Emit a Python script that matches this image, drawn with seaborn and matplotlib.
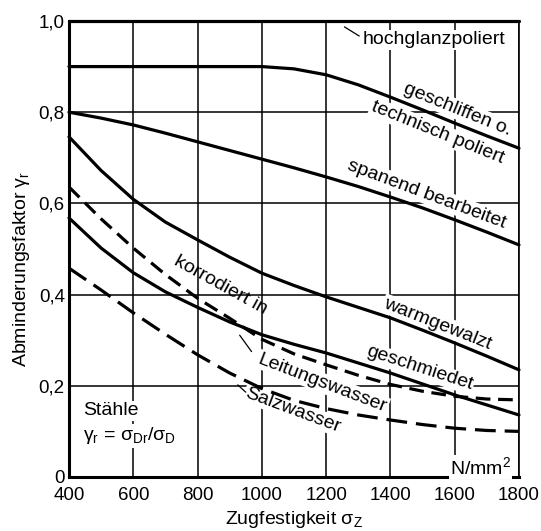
import numpy as np
import pandas as pd
import matplotlib
matplotlib.use("Agg")
import matplotlib.pyplot as plt
import seaborn as sns

# ---------------- data ----------------
x_vals = [400, 500, 600, 700, 800, 900, 1000, 1100, 1200, 1300, 1400, 1500, 1600, 1700, 1800]

hochglanzpoliert = [1.0, 1.0, 1.0, 1.0, 1.0, 1.0, 1.0, 1.0, 1.0, 1.0, 1.0, 1.0, 1.0, 1.0, 1.0]
geschliffen = [0.90, 0.90, 0.90, 0.90, 0.90, 0.90, 0.90, 0.895, 0.882, 0.860, 0.833, 0.805, 0.776, 0.748, 0.721]
spanend = [0.800, 0.787, 0.772, 0.754, 0.735, 0.716, 0.697, 0.678, 0.658, 0.637, 0.614, 0.590, 0.564, 0.537, 0.509]
warmgewalzt = [0.746, 0.672, 0.609, 0.559, 0.520, 0.482, 0.447, 0.420, 0.395, 0.372, 0.349, 0.322, 0.294, 0.265, 0.235]
geschmiedet = [0.568, 0.502, 0.448, 0.406, 0.372, 0.340, 0.312, 0.291, 0.272, 0.250, 0.228, 0.204, 0.180, 0.158, 0.136]
leitungswasser = [0.636, 0.566, 0.502, 0.444, 0.392, 0.348, 0.302, 0.270, 0.246, 0.223, 0.203, 0.188, 0.177, 0.171, 0.169]
salzwasser = [0.458, 0.410, 0.360, 0.313, 0.268, 0.228, 0.194, 0.168, 0.150, 0.136, 0.125, 0.115, 0.107, 0.102, 0.100]

x_ticks = [400, 600, 800, 1000, 1200, 1400, 1600, 1800]
y_ticks = [0, 0.2, 0.4, 0.6, 0.8, 1.0]
y_tick_labels = ["0", "0,2", "0,4", "0,6", "0,8", "1,0"]

series = [
    ("hochglanzpoliert", hochglanzpoliert, "solid"),
    ("geschliffen", geschliffen, "solid"),
    ("spanend", spanend, "solid"),
    ("warmgewalzt", warmgewalzt, "solid"),
    ("geschmiedet", geschmiedet, "solid"),
    ("leitungswasser", leitungswasser, "dash1"),
    ("salzwasser", salzwasser, "dash2"),
]

# ---------------- styling ----------------
sns.set_theme(style="white")
plt.rcParams["font.family"] = ["Liberation Sans", "DejaVu Sans"]
plt.rcParams["mathtext.fontset"] = "custom"
plt.rcParams["mathtext.rm"] = "Liberation Sans"
plt.rcParams["mathtext.it"] = "Liberation Sans"
plt.rcParams["mathtext.bf"] = "Liberation Sans"

fig = plt.figure(figsize=(5.41, 5.31), dpi=100)
ax = fig.add_axes([0.1275, 0.1017, 0.9593 - 0.1275, 0.9605 - 0.1017])

ls_map = {"solid": "-", "dash1": (0, (4.6, 2.4)), "dash2": (0, (6.5, 2.8))}
LW = 2.3
for name, ys, st in series:
    df = pd.DataFrame({"x": x_vals, "y": ys})
    sns.lineplot(data=df, x="x", y="y", ax=ax, color="black", linewidth=LW,
                 linestyle=ls_map[st], estimator=None, sort=True, zorder=4,
                 clip_on=False)

ax.set_xlim(400, 1800)
ax.set_ylim(0, 1.0)
ax.set_xticks(x_ticks)
ax.set_xticklabels([str(v) for v in x_ticks])
ax.set_yticks(y_ticks)
ax.set_yticklabels(y_tick_labels)
ax.tick_params(axis="both", length=0, labelsize=13.5, colors="black")
ax.tick_params(axis="x", pad=7)
ax.tick_params(axis="y", pad=3)

ax.grid(True, color="black", linewidth=1.1, zorder=1)
ax.set_axisbelow(True)
for side in ["left", "bottom"]:
    ax.spines[side].set_linewidth(2.2)
    ax.spines[side].set_color("black")
ax.spines["right"].set_linewidth(1.2)
ax.spines["right"].set_color("black")
ax.spines["top"].set_linewidth(1.2)
ax.spines["top"].set_color("black")

ax.set_xlabel("Zugfestigkeit σ$_\\mathrm{Z}$", fontsize=14, color="black", labelpad=4)
ax.set_ylabel("Abminderungsfaktor γ$_\\mathrm{r}$", fontsize=14, color="black")
ax.yaxis.set_label_coords(-0.082, 0.456)

# ---------------- annotations ----------------
FS = 14
bb = dict(facecolor="white", edgecolor="none", pad=1.0)

def lab(x, y, s, rot=0, ha="center", va="center", box=True):
    ax.text(x, y, s, rotation=rot, rotation_mode="anchor", ha=ha, va=va,
            fontsize=FS, color="black", zorder=3,
            bbox=bb if box else None)

lab(1313, 0.959, "hochglanzpoliert", ha="left")
ax.plot([1257, 1303], [0.987, 0.967], color="black", lw=0.9, zorder=3)

lab(1608, 0.806, "geschliffen o.", rot=-22)
lab(1546, 0.755, "technisch poliert", rot=-22)
lab(1512, 0.620, "spanend bearbeitet", rot=-20.5)
lab(1546, 0.336, "warmgewalzt", rot=-21.5)
lab(1490, 0.238, "geschmiedet", rot=-18)
lab(872, 0.420, "korrodiert in", rot=-29, box=False)
lab(1189, 0.206, "Leitungswasser", rot=-21)
ax.plot([931, 968], [0.311, 0.275], color="black", lw=0.9, zorder=3)
lab(1096, 0.147, "Salzwasser", rot=-20.5)
ax.plot([925, 950], [0.202, 0.186], color="black", lw=0.9, zorder=3)

lab(443, 0.145, "Stähle", ha="left")
lab(443, 0.090, "γ$_\\mathrm{r}$ = σ$_\\mathrm{Dr}$/σ$_\\mathrm{D}$", ha="left")
lab(1775, 0.022, "N/mm$^2$", ha="right")

fig.savefig("out.png", dpi=100, facecolor="white")
